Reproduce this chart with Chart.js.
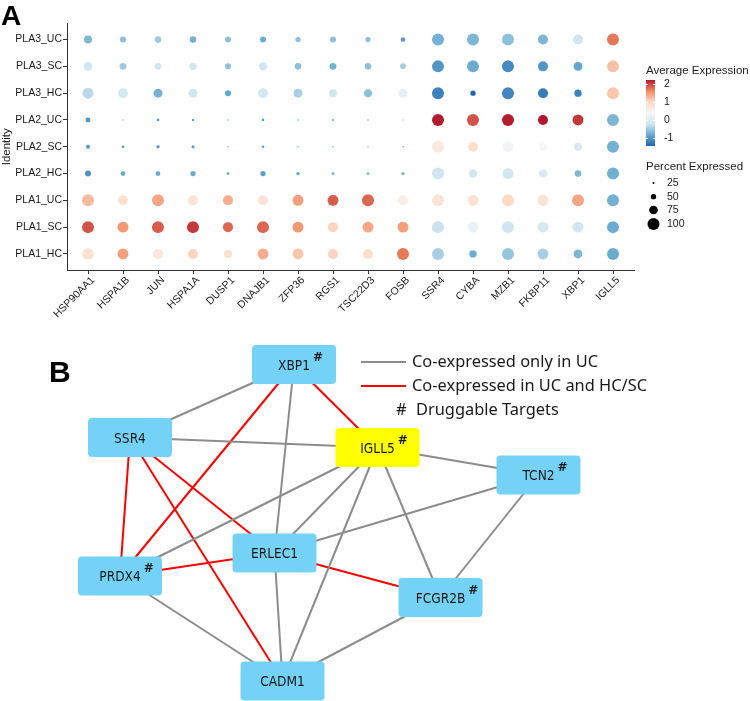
<!DOCTYPE html>
<html>
<head>
<meta charset="utf-8">
<script src="https://cdn.jsdelivr.net/npm/chart.js@4.4.1/dist/chart.umd.min.js"></script>
<style>
  html, body { margin: 0; padding: 0; background: #fff; }
  #wrap { position: relative; width: 750px; height: 701px; overflow: hidden; }
  canvas { position: absolute; left: 0; top: 0; }
</style>
</head>
<body>
<div id="wrap">
  <canvas id="network" width="750" height="701"></canvas>
  <canvas id="dotPlot" width="750" height="320"></canvas>
</div>
<script>
// ---- panel A data ----
const genes = ['HSP90AA1', 'HSPA1B', 'JUN', 'HSPA1A', 'DUSP1', 'DNAJB1', 'ZFP36', 'RGS1',
  'TSC22D3', 'FOSB', 'SSR4', 'CYBA', 'MZB1', 'FKBP11', 'XBP1', 'IGLL5'];
// bottom to top, like the y axis
const identities = ['PLA1_HC', 'PLA1_SC', 'PLA1_UC', 'PLA2_HC', 'PLA2_SC', 'PLA2_UC', 'PLA3_HC', 'PLA3_SC', 'PLA3_UC'];

// average expression (scaled), one row per identity
const avgExpression = [
  [0.85, 1.45, 0.75, 1.05, 0.9, 1.35, 1.15, 1.05, 0.9, 1.7, -0.45, -0.8, -0.55, -0.45, -0.7, -0.8],
  [1.9, 1.5, 1.85, 2.05, 1.8, 1.8, 1.5, 1.05, 1.4, 1.45, -0.25, 0.2, -0.2, -0.1, -0.2, -0.8],
  [1.25, 0.9, 1.4, 0.85, 1.35, 0.8, 1.45, 1.85, 1.8, 0.6, 0.8, 0.85, 1.0, 0.85, 1.4, -0.75],
  [-1.05, -0.85, -0.85, -0.8, -0.85, -0.9, -0.9, -0.85, -0.8, -0.75, -0.2, -0.2, -0.2, -0.1, -0.7, -0.78],
  [-1.0, -1.0, -0.95, -0.95, -0.8, -0.95, -0.8, -0.8, -0.6, -0.85, 0.7, 0.9, 0.3, 0.35, -0.1, -0.75],
  [-1.0, -0.9, -0.95, -0.95, -0.8, -0.9, -0.8, -0.85, -0.85, -0.6, 2.2, 1.9, 2.2, 2.22, 2.05, -0.7],
  [-0.35, -0.15, -0.75, -0.2, -0.85, -0.15, -0.45, -0.2, -0.6, 0.1, -1.2, -1.42, -1.15, -1.25, -1.2, 1.15],
  [-0.2, -0.5, -0.2, -0.2, -0.6, -0.2, -0.6, -0.75, -0.6, -0.45, -1.0, -0.8, -1.1, -1.0, -0.85, 1.2],
  [-0.7, -0.6, -0.5, -0.75, -0.6, -0.8, -0.6, -0.6, -0.6, -0.95, -0.75, -0.7, -0.6, -0.7, -0.2, 1.7]
];

// percent of cells expressing, one row per identity
const pctExpressed = [
  [98, 92, 85, 85, 70, 92, 92, 85, 85, 100, 100, 65, 100, 92, 77, 100],
  [100, 92, 100, 100, 85, 100, 92, 85, 92, 92, 100, 92, 100, 92, 92, 100],
  [100, 85, 100, 85, 85, 85, 92, 92, 100, 85, 100, 92, 100, 92, 100, 100],
  [55, 45, 45, 50, 30, 50, 35, 30, 30, 35, 100, 70, 92, 70, 60, 100],
  [40, 30, 35, 33, 22, 30, 22, 22, 20, 22, 100, 85, 92, 70, 70, 100],
  [47, 20, 30, 28, 22, 30, 22, 25, 22, 20, 100, 100, 100, 85, 92, 100],
  [92, 85, 77, 77, 55, 85, 77, 70, 70, 77, 100, 50, 100, 85, 65, 100],
  [77, 62, 62, 65, 55, 70, 60, 62, 60, 55, 100, 100, 100, 85, 77, 100],
  [70, 55, 60, 60, 55, 55, 50, 55, 50, 45, 100, 100, 100, 85, 85, 100]
];

const colorTicks = [2, 1, 0, -1];
const sizeTicks = [25, 50, 75, 100];

// ---- panel B data ----
const nodeNames = ['XBP1', 'SSR4', 'IGLL5', 'PRDX4', 'ERLEC1', 'CADM1', 'TCN2', 'FCGR2B'];
const nodeX = [294, 130, 377.5, 120, 274.5, 282.5, 538.5, 440.5];
const nodeY = [364.5, 437.5, 447.5, 576, 553, 681, 475, 597.5];
const druggable = ['XBP1', 'IGLL5', 'PRDX4', 'TCN2', 'FCGR2B'];
const highlighted = ['IGLL5'];

const ucOnlyEdges = [
  ['XBP1', 'SSR4'], ['SSR4', 'IGLL5'], ['XBP1', 'ERLEC1'], ['ERLEC1', 'CADM1'],
  ['IGLL5', 'PRDX4'], ['IGLL5', 'ERLEC1'], ['IGLL5', 'CADM1'], ['IGLL5', 'TCN2'],
  ['IGLL5', 'FCGR2B'], ['ERLEC1', 'TCN2'], ['TCN2', 'FCGR2B'], ['PRDX4', 'CADM1'],
  ['FCGR2B', 'CADM1']
];
const sharedEdges = [
  ['XBP1', 'PRDX4'], ['XBP1', 'IGLL5'], ['SSR4', 'PRDX4'], ['SSR4', 'ERLEC1'],
  ['SSR4', 'CADM1'], ['PRDX4', 'ERLEC1'], ['ERLEC1', 'FCGR2B']
];

// ---- helpers ----
const FONT = '"Liberation Sans", Arial, sans-serif';
const INK = '#1a1a1a';
const colorMin = -1.44, colorMax = 2.22;
const rdbu = ['#2166ac', '#67a9cf', '#d1e5f0', '#f7f7f7', '#fddbc7', '#ef8a62', '#b2182b'];

function hexRgb(h) {
  return [1, 3, 5].map(i => parseInt(h.slice(i, i + 2), 16));
}

function expColor(v) {
  const t = Math.min(1, Math.max(0, (v - colorMin) / (colorMax - colorMin))) * (rdbu.length - 1);
  const i = Math.min(rdbu.length - 2, Math.floor(t));
  const f = t - i;
  const a = hexRgb(rdbu[i]), b = hexRgb(rdbu[i + 1]);
  const c = a.map((x, k) => Math.round(x + (b[k] - x) * f));
  return `rgb(${c[0]},${c[1]},${c[2]})`;
}

// radius scale: 10% -> 0, 100% -> 6
function pctRadius(p) {
  return Math.max(0, 6 * (p - 10) / 90);
}

const dotData = [];
identities.forEach((id, yi) => {
  genes.forEach((g, xi) => {
    dotData.push({ x: xi, y: yi, r: pctRadius(pctExpressed[yi][xi]), v: avgExpression[yi][xi] });
  });
});

const dotLegend = {
  id: 'dotLegend',
  afterDraw(chart) {
    const ctx = chart.ctx;
    ctx.save();
    ctx.font = 'bold 28px ' + FONT;
    ctx.fillStyle = '#000';
    ctx.textBaseline = 'alphabetic';
    ctx.fillText('A', 1, 25);

    ctx.fillStyle = INK;
    ctx.font = '11.5px ' + FONT;
    ctx.fillText('Average Expression', 646, 74);

    const barX = 646, barW = 9, barTop = 80, barBot = 146;
    const yOf = v => barTop + (colorMax - v) / (colorMax - colorMin) * (barBot - barTop);
    for (let py = barTop; py < barBot; py++) {
      const v = colorMax - (py - barTop + 0.5) / (barBot - barTop) * (colorMax - colorMin);
      ctx.fillStyle = expColor(v);
      ctx.fillRect(barX, py, barW, 1);
    }
    ctx.strokeStyle = '#fff';
    ctx.lineWidth = 1;
    ctx.font = '10.5px ' + FONT;
    ctx.textBaseline = 'middle';
    colorTicks.forEach(t => {
      const y = Math.round(yOf(t)) + 0.5;
      ctx.beginPath();
      ctx.moveTo(barX, y); ctx.lineTo(barX + 2, y);
      ctx.moveTo(barX + barW - 2, y); ctx.lineTo(barX + barW, y);
      ctx.stroke();
      ctx.fillStyle = INK;
      ctx.fillText(String(t), 664, yOf(t));
    });

    ctx.font = '11.5px ' + FONT;
    ctx.textBaseline = 'alphabetic';
    ctx.fillText('Percent Expressed', 646, 170);
    const sizeY = [183, 196.7, 210, 224];
    ctx.font = '10.5px ' + FONT;
    ctx.textBaseline = 'middle';
    sizeTicks.forEach((p, i) => {
      ctx.fillStyle = '#000';
      ctx.beginPath();
      ctx.arc(653.5, sizeY[i], pctRadius(p), 0, Math.PI * 2);
      ctx.fill();
      ctx.fillStyle = INK;
      ctx.fillText(String(p), 667, sizeY[i]);
    });
    ctx.restore();
  }
};

new Chart(document.getElementById('dotPlot'), {
  type: 'bubble',
  data: {
    datasets: [{
      data: dotData,
      backgroundColor: c => expColor(c.raw ? c.raw.v : 0),
      borderWidth: 0,
      hoverBorderWidth: 0
    }]
  },
  options: {
    responsive: false,
    animation: false,
    events: [],
    layout: { padding: { top: 23.5, right: 116, left: 0, bottom: 0 } },
    plugins: { legend: { display: false }, tooltip: { enabled: false } },
    scales: {
      x: {
        type: 'linear',
        min: -0.6,
        max: 15.6,
        afterBuildTicks: s => { s.ticks = genes.map((g, i) => ({ value: i })); },
        afterFit: s => { s.height = 50; },
        ticks: {
          callback: v => genes[v],
          autoSkip: false,
          minRotation: 45,
          maxRotation: 45,
          padding: 0,
          labelOffset: 5,
          color: INK,
          font: { family: FONT, size: 10.5 }
        },
        grid: { display: true, drawOnChartArea: false, drawTicks: true, tickLength: 4, color: '#333' },
        border: { display: true, color: '#333', width: 1 }
      },
      y: {
        type: 'linear',
        min: -0.6,
        max: 8.6,
        afterBuildTicks: s => { s.ticks = identities.map((g, i) => ({ value: i })); },
        afterFit: s => { s.width = 67; },
        ticks: {
          callback: v => identities[v],
          autoSkip: false,
          padding: 1,
          color: INK,
          font: { family: FONT, size: 10.5 }
        },
        title: {
          display: true,
          text: 'Identity',
          color: INK,
          padding: 0,
          font: { family: FONT, size: 11.5 }
        },
        grid: { display: true, drawOnChartArea: false, drawTicks: true, tickLength: 4, color: '#333' },
        border: { display: true, color: '#333', width: 1 }
      }
    }
  },
  plugins: [dotLegend]
});

// ---- panel B: network ----
const idx = name => nodeNames.indexOf(name);
const edgeDataset = (pair, color) => ({
  data: pair.map(n => ({ x: nodeX[idx(n)], y: nodeY[idx(n)] })),
  showLine: true,
  borderColor: color,
  borderWidth: 2,
  pointRadius: 0,
  pointHoverRadius: 0,
  fill: false
});

const GRAY = '#8c8c8c', RED = '#ff0000';

const networkLayer = {
  id: 'networkLayer',
  afterDatasetsDraw(chart) {
    const ctx = chart.ctx;
    const xs = chart.scales.x, ys = chart.scales.y;
    ctx.save();
    nodeNames.forEach((name, i) => {
      const cx = xs.getPixelForValue(nodeX[i]);
      const cy = ys.getPixelForValue(nodeY[i]);
      ctx.fillStyle = highlighted.includes(name) ? '#ffff00' : '#75d2f7';
      ctx.beginPath();
      ctx.roundRect(cx - 42, cy - 19.5, 84, 39, 4);
      ctx.fill();
      ctx.fillStyle = INK;
      ctx.font = '13.6px "DejaVu Sans Condensed", "DejaVu Sans", sans-serif';
      ctx.textAlign = 'center';
      ctx.textBaseline = 'middle';
      ctx.fillText(name, cx, cy + 1.5);
      if (druggable.includes(name)) {
        const w = ctx.measureText(name).width;
        ctx.font = 'bold 12px "DejaVu Sans", sans-serif';
        ctx.textAlign = 'left';
        ctx.fillText('#', cx + w / 2 + 3, cy - 7);
      }
    });

    // legend
    ctx.lineWidth = 2;
    ctx.strokeStyle = GRAY;
    ctx.beginPath(); ctx.moveTo(361, 362); ctx.lineTo(406, 362); ctx.stroke();
    ctx.strokeStyle = RED;
    ctx.beginPath(); ctx.moveTo(361, 386); ctx.lineTo(406, 386); ctx.stroke();
    ctx.fillStyle = INK;
    ctx.textAlign = 'left';
    ctx.textBaseline = 'middle';
    ctx.font = '16.4px "Noto Sans", sans-serif';
    ctx.fillText('Co-expressed only in UC', 412, 362);
    ctx.fillText('Co-expressed in UC and HC/SC', 412, 386);
    ctx.fillText('#', 396, 410);
    ctx.fillText('Druggable Targets', 416, 410);

    ctx.fillStyle = '#000';
    ctx.font = 'bold 30px ' + FONT;
    ctx.textBaseline = 'alphabetic';
    ctx.fillText('B', 49, 382);
    ctx.restore();
  }
};

new Chart(document.getElementById('network'), {
  type: 'scatter',
  data: {
    datasets: [
      ...ucOnlyEdges.map(e => edgeDataset(e, GRAY)),
      ...sharedEdges.map(e => edgeDataset(e, RED))
    ]
  },
  options: {
    responsive: false,
    animation: false,
    events: [],
    layout: { padding: 0 },
    plugins: { legend: { display: false }, tooltip: { enabled: false } },
    scales: {
      x: { type: 'linear', min: 0, max: 750, display: false },
      y: { type: 'linear', min: 0, max: 701, reverse: true, display: false }
    }
  },
  plugins: [networkLayer]
});
</script>
</body>
</html>
